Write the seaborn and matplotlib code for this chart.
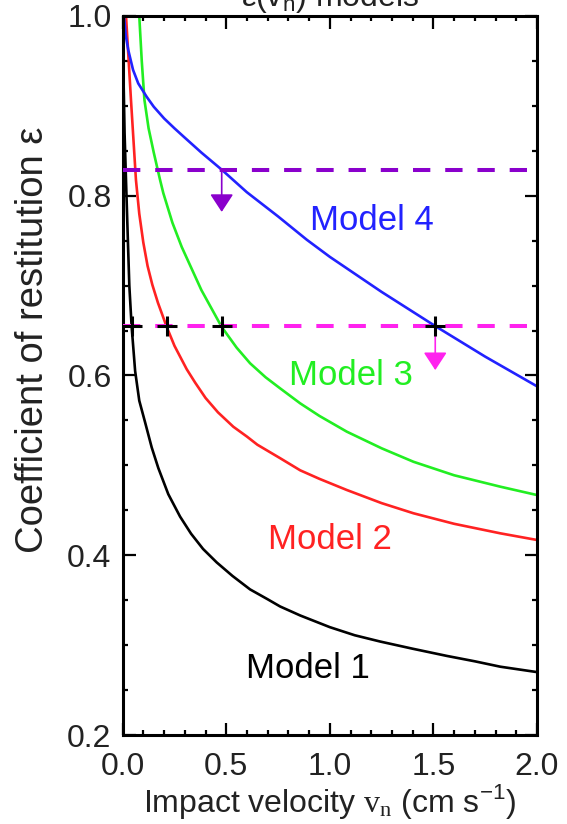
import numpy as np
import pandas as pd
import matplotlib
matplotlib.use("Agg")
import matplotlib.pyplot as plt
import seaborn as sns

## curves (impact velocity, coefficient of restitution)
m1_v = [0.0, 0.004, 0.009, 0.016, 0.026, 0.032, 0.043, 0.06, 0.08, 0.108, 0.14, 0.172,
        0.22, 0.277, 0.33, 0.388, 0.454, 0.53, 0.615, 0.70, 0.76, 0.857, 1.0, 1.12,
        1.243, 1.4, 1.565, 1.7, 1.823, 2.0]
m1_e = [1.0, 0.93, 0.87, 0.817, 0.743, 0.70, 0.655, 0.605, 0.572, 0.548, 0.52, 0.497,
        0.468, 0.443, 0.424, 0.407, 0.392, 0.377, 0.362, 0.351, 0.343, 0.333, 0.320,
        0.311, 0.304, 0.296, 0.288, 0.282, 0.276, 0.27]

m2_v = [0.0, 0.016, 0.04, 0.064, 0.08, 0.0995, 0.12, 0.143, 0.17, 0.2126, 0.25, 0.309,
        0.35, 0.40, 0.46, 0.534, 0.6, 0.65, 0.76, 0.857, 0.95, 1.082, 1.25, 1.404, 1.6,
        1.823, 2.0]
m2_e = [1.0, 1.0, 0.9065, 0.8175, 0.78, 0.748, 0.722, 0.701, 0.681, 0.654, 0.633, 0.607,
        0.592, 0.575, 0.559, 0.543, 0.532, 0.523, 0.508, 0.4945, 0.485, 0.4726, 0.458,
        0.4467, 0.435, 0.4244, 0.417]

m3_v = [0.0, 0.08, 0.092, 0.105, 0.125, 0.15, 0.18, 0.196, 0.24, 0.285, 0.38, 0.478,
        0.55, 0.615, 0.69, 0.76, 0.857, 0.95, 1.082, 1.25, 1.404, 1.6, 1.823, 2.0]
m3_e = [1.0, 1.0, 0.95, 0.9065, 0.875, 0.848, 0.818, 0.803, 0.77, 0.743, 0.695, 0.654,
        0.631, 0.6136, 0.598, 0.5857, 0.569, 0.555, 0.5375, 0.519, 0.504, 0.489,
        0.4763, 0.467]

m4_v = [0.0, 0.006, 0.015, 0.027, 0.05, 0.075, 0.116, 0.15, 0.2, 0.25, 0.293, 0.38,
        0.478, 0.599, 0.75, 0.889, 1.0, 1.25, 1.509, 1.75, 2.0]
m4_e = [1.0, 1.0, 0.978, 0.962, 0.94, 0.925, 0.91, 0.899, 0.886, 0.875, 0.866, 0.848,
        0.829, 0.804, 0.777, 0.751, 0.732, 0.693, 0.655, 0.621, 0.588]

model_names = ["Model 1", "Model 2", "Model 3", "Model 4"]
model_colors = ["#000000", "#ff2222", "#22ee22", "#2222ff"]
label_x = [0.895, 1.0, 1.10, 1.205]
label_y = [0.2745, 0.417, 0.5995, 0.772]

## thresholds and where the curves cross them
limit_hi = 0.829
limit_lo = 0.655
cross_v = [0.045, 0.213, 0.478, 1.509]
arrow_v = [0.478, 1.509]
arrow_tip = [0.782, 0.606]
limit_colors = ["#8a00cc", "#ff22ee"]

df = pd.concat([
    pd.DataFrame({"v": v, "eps": e, "model": n})
    for v, e, n in zip([m1_v, m2_v, m3_v, m4_v], [m1_e, m2_e, m3_e, m4_e], model_names)
])

sns.set_theme(style="ticks")
plt.rcParams["font.family"] = ["Liberation Sans", "DejaVu Sans"]
plt.rcParams["mathtext.fontset"] = "custom"
plt.rcParams["mathtext.rm"] = "Liberation Serif"
plt.rcParams["mathtext.sf"] = "Liberation Sans"

fig = plt.figure(figsize=(5.67, 8.24), dpi=100)
ax = fig.add_axes([0.2164, 0.108, 0.947 - 0.2164, 0.9806 - 0.108])

sns.lineplot(data=df, x="v", y="eps", hue="model", palette=model_colors,
             linewidth=1.9, legend=False, estimator=None, sort=False, ax=ax)

for lim, col in zip([limit_hi, limit_lo], limit_colors):
    ax.axhline(lim, color=col, linewidth=2.9, dashes=(4.3, 3.7), zorder=3)

sns.scatterplot(x=cross_v, y=[limit_lo] * len(cross_v), marker="+", s=210,
                color="black", linewidth=2.2, zorder=5, ax=ax)

for av, base, tip, col in zip(arrow_v, [limit_hi, limit_lo], arrow_tip, limit_colors):
    ax.annotate("", xy=(av, tip), xytext=(av, base),
                arrowprops=dict(arrowstyle="-|>,head_length=0.55,head_width=0.36",
                                color=col, lw=1.2, shrinkA=0, shrinkB=0,
                                mutation_scale=20), zorder=4)

for name, col, lx, ly in zip(model_names, model_colors, label_x, label_y):
    ax.text(lx, ly, name, color=col, fontsize=25, ha="center", va="center")

ax.set_xlim(0, 2.0)
ax.set_ylim(0.2, 1.0)
ax.set_xticks(np.arange(0, 2.01, 0.5))
ax.set_xticks(np.arange(0, 2.01, 0.1), minor=True)
ax.set_yticks(np.arange(0.2, 1.01, 0.2))
ax.set_yticks(np.arange(0.2, 1.01, 0.05), minor=True)
ax.set_xticklabels([f"{t:.1f}" for t in np.arange(0, 2.01, 0.5)])
ax.set_yticklabels([f"{t:.1f}" for t in np.arange(0.2, 1.01, 0.2)])

ax.tick_params(which="both", direction="in", top=True, right=True, width=1.6,
               color="black", labelsize=23, labelcolor="#222222")
ax.tick_params(which="major", length=9)
ax.tick_params(which="minor", length=3.6)
ax.tick_params(axis="x", which="major", pad=12)
ax.tick_params(axis="y", which="major", pad=8)
for sp in ax.spines.values():
    sp.set_linewidth(2.2)
    sp.set_color("black")

ax.set_xlabel("Impact velocity $\\mathrm{v_n}$ (cm s$^{\\mathsf{-1}}$)", fontsize=23,
              color="#222222")
ax.set_ylabel("Coefficient of restitution ε", fontsize=27.5, color="#222222")
ax.xaxis.set_label_coords(0.5, -0.066)
ax.yaxis.set_label_coords(-0.172, 0.55)

fig.text(0.5817, 1 - 6 / 824, "ε(v$_\\mathsf{n}$) models", fontsize=23, ha="center",
         va="baseline", color="#222222")

fig.savefig("out.png", dpi=100)
